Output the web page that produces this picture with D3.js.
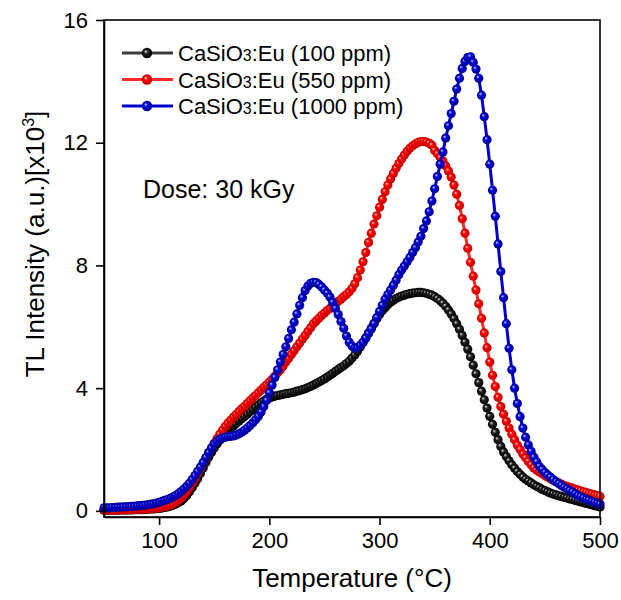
<!DOCTYPE html>
<html lang="en">
<head>
<meta charset="utf-8">
<title>TL glow curves</title>
<script src="https://cdn.jsdelivr.net/npm/d3@7"></script>
<style>
body{margin:0;background:#fff}
text{font-family:"Liberation Sans",Arial,sans-serif;fill:#000}
</style>
</head>
<body>
<div id="chart"></div>
<script>

// temperature grid of the readout (deg C)
var temps = [
 50,52.5,55,57.5,60,62.5,65,67.5,70,72.5,75,77.5,80,82.5,85,87.5,90,92.5,95,97.5,
 100,102.5,105,107.5,110,112.5,115,117.5,120,122.5,125,127.5,130,132.5,135,137.5,140,142.5,145,147.5,
 150,152.5,155,157.5,160,162.5,165,167.5,170,172.5,175,177.5,180,182.5,185,187.5,190,192.5,195,197.5,
 200,202.5,205,207.5,210,212.5,215,217.5,220,222.5,225,227.5,230,232.5,235,237.5,240,242.5,245,247.5,
 250,252.5,255,257.5,260,262.5,265,267.5,270,272.5,275,277.5,280,282.5,285,287.5,290,292.5,295,297.5,
 300,302.5,305,307.5,310,312.5,315,317.5,320,322.5,325,327.5,330,332.5,335,337.5,340,342.5,345,347.5,
 350,352.5,355,357.5,360,362.5,365,367.5,370,372.5,375,377.5,380,382.5,385,387.5,390,392.5,395,397.5,
 400,402.5,405,407.5,410,412.5,415,417.5,420,422.5,425,427.5,430,432.5,435,437.5,440,442.5,445,447.5,
 450,452.5,455,457.5,460,462.5,465,467.5,470,472.5,475,477.5,480,482.5,485,487.5,490,492.5,495,497.5,
 500]

// TL intensity x10^3
var ppm100 = [
 0.02,0.02,0.02,0.02,0.02,0.02,0.03,0.03,0.03,0.03,0.03,0.04,0.04,0.04,0.04,0.05,0.05,0.06,0.06,0.07,
 0.08,0.09,0.11,0.13,0.15,0.18,0.22,0.27,0.32,0.40,0.50,0.62,0.75,0.90,1.05,1.22,1.40,1.58,1.75,1.90,
 2.05,2.18,2.30,2.40,2.50,2.59,2.68,2.77,2.85,2.93,3.00,3.08,3.15,3.23,3.30,3.38,3.45,3.52,3.58,3.64,
 3.68,3.71,3.74,3.76,3.78,3.80,3.82,3.83,3.85,3.87,3.90,3.92,3.95,3.98,4.02,4.06,4.10,4.15,4.20,4.25,
 4.30,4.36,4.42,4.48,4.55,4.61,4.67,4.73,4.80,4.88,4.98,5.08,5.20,5.34,5.49,5.64,5.80,5.96,6.11,6.26,
 6.40,6.52,6.62,6.72,6.80,6.86,6.92,6.96,7.00,7.03,7.06,7.08,7.10,7.11,7.12,7.12,7.11,7.09,7.06,7.03,
 6.98,6.92,6.85,6.77,6.67,6.55,6.42,6.27,6.10,5.92,5.72,5.50,5.27,5.02,4.75,4.47,4.18,3.90,3.62,3.35,
 3.08,2.82,2.56,2.32,2.10,1.92,1.77,1.63,1.50,1.39,1.28,1.19,1.10,1.03,0.97,0.91,0.85,0.80,0.75,0.70,
 0.66,0.62,0.58,0.55,0.52,0.49,0.47,0.44,0.42,0.39,0.37,0.34,0.32,0.29,0.27,0.24,0.22,0.20,0.17,0.15,
 0.13]

var ppm550 = [
 0.02,0.02,0.02,0.02,0.02,0.03,0.03,0.03,0.03,0.04,0.04,0.04,0.05,0.05,0.05,0.06,0.06,0.07,0.08,0.09,
 0.10,0.12,0.14,0.16,0.18,0.22,0.28,0.35,0.42,0.51,0.62,0.75,0.90,1.05,1.22,1.38,1.55,1.72,1.90,2.05,
 2.20,2.35,2.50,2.63,2.75,2.86,2.96,3.06,3.15,3.24,3.33,3.41,3.50,3.59,3.68,3.76,3.85,3.94,4.03,4.11,
 4.20,4.29,4.39,4.50,4.60,4.72,4.85,4.97,5.10,5.22,5.35,5.47,5.60,5.72,5.85,5.97,6.10,6.19,6.28,6.37,
 6.45,6.53,6.60,6.68,6.75,6.83,6.90,6.98,7.05,7.14,7.25,7.40,7.60,7.85,8.12,8.42,8.75,9.05,9.35,9.62,
 9.90,10.15,10.40,10.62,10.82,11.00,11.17,11.32,11.47,11.60,11.72,11.82,11.90,11.96,12.01,12.04,12.04,12.02,11.98,11.92,
 11.75,11.64,11.52,11.40,11.25,11.08,10.88,10.62,10.32,9.95,9.52,9.05,8.56,8.10,7.65,7.20,6.75,6.28,5.80,5.32,
 4.85,4.42,4.05,3.70,3.40,3.15,2.92,2.70,2.50,2.32,2.15,2.00,1.85,1.73,1.61,1.50,1.40,1.33,1.27,1.21,
 1.15,1.10,1.05,1.00,0.95,0.91,0.87,0.83,0.80,0.77,0.74,0.71,0.68,0.65,0.62,0.60,0.57,0.55,0.52,0.50,
 0.47]

var ppm1000 = [
 0.10,0.10,0.10,0.11,0.11,0.12,0.12,0.13,0.13,0.14,0.15,0.15,0.16,0.17,0.18,0.19,0.20,0.22,0.23,0.25,
 0.28,0.31,0.34,0.37,0.41,0.45,0.50,0.56,0.63,0.71,0.80,0.90,1.02,1.15,1.29,1.43,1.58,1.74,1.90,2.05,
 2.18,2.27,2.33,2.37,2.40,2.42,2.43,2.44,2.47,2.51,2.56,2.63,2.70,2.78,2.87,2.97,3.08,3.22,3.40,3.60,
 3.85,4.10,4.35,4.60,4.85,5.10,5.35,5.62,5.90,6.15,6.42,6.70,6.95,7.18,7.33,7.42,7.45,7.44,7.38,7.30,
 7.20,7.10,6.97,6.80,6.60,6.40,6.17,5.95,5.70,5.50,5.37,5.30,5.32,5.40,5.50,5.63,5.78,5.93,6.10,6.30,
 6.50,6.70,6.90,7.05,7.20,7.35,7.52,7.70,7.85,7.98,8.12,8.26,8.42,8.58,8.76,8.95,9.20,9.45,9.75,10.10,
 10.50,10.90,11.30,11.70,12.15,12.55,12.95,13.35,13.75,14.10,14.42,14.65,14.78,14.80,14.62,14.40,14.10,13.55,12.85,12.10,
 11.30,10.45,9.60,8.70,7.80,6.95,6.10,5.30,4.60,4.00,3.50,3.07,2.70,2.40,2.15,1.94,1.75,1.60,1.45,1.35,
 1.25,1.17,1.10,1.02,0.95,0.89,0.83,0.77,0.72,0.67,0.62,0.56,0.50,0.46,0.42,0.38,0.35,0.31,0.28,0.25,
 0.22]

var seriesLabels = ["(100 ppm)", "(550 ppm)", "(1000 ppm)"]
var xTicks = [100, 200, 300, 400, 500]
var yTicks = [0, 4, 8, 12, 16]

var lineColors = ["#3c3c3c", "#ff2a2a", "#0000cc"]
var ballColors = [["#e0e0e0", "#222", "#000"], ["#ffd8d8", "#ff0000", "#c00000"], ["#d0d0ff", "#0000dd", "#00008c"]]

var W = 621, H = 600
// plot box edges (pixels)
var pLeft = 104, pRight = 600, pTop = 20, pBottom = 517

var svg = d3.select("#chart").append("svg")
	.attr("width", W)
	.attr("height", H)

var xScale = d3.scaleLinear().domain([50, 500]).range([pLeft, pRight])
var yScale = d3.scaleLinear().domain([-0.2, 16]).range([pBottom, pTop])

// sphere look for the markers
var defs = svg.append("defs")
ballColors.forEach(function(c, i){
	var g = defs.append("radialGradient").attr("id", "ball" + i)
		.attr("cx", "50%").attr("cy", "50%").attr("r", "50%")
		.attr("fx", "35%").attr("fy", "32%")
	g.append("stop").attr("offset", "0%").attr("stop-color", c[0])
	g.append("stop").attr("offset", "40%").attr("stop-color", c[1])
	g.append("stop").attr("offset", "100%").attr("stop-color", c[2])
})

// axes
var xAxis = d3.axisBottom(xScale).tickValues(xTicks).tickSize(8).tickSizeOuter(0).tickPadding(7)
var yAxis = d3.axisLeft(yScale).tickValues(yTicks).tickSize(8).tickSizeOuter(0).tickPadding(8)

var series = [ppm100, ppm550, ppm1000]

var line = d3.line()
	.x(function(d){ return xScale(d[0]) })
	.y(function(d){ return yScale(d[1]) })

series.forEach(function(vals, i){
	var pts = temps.map(function(t, j){ return [t, vals[j]] })
	var g = svg.append("g").attr("class", "series" + i)
	g.append("path")
		.datum(pts)
		.attr("d", line)
		.attr("fill", "none")
		.attr("stroke", lineColors[i])
		.attr("stroke-width", 3)
	g.selectAll("circle")
		.data(pts)
		.enter()
		.append("circle")
		.attr("cx", function(d){ return xScale(d[0]) })
		.attr("cy", function(d){ return yScale(d[1]) })
		.attr("r", 4.6)
		.attr("fill", "url(#ball" + i + ")")
})

// frame
svg.append("rect")
	.attr("x", pLeft).attr("y", pTop)
	.attr("width", pRight - pLeft).attr("height", pBottom - pTop)
	.attr("fill", "none").attr("stroke", "#000").attr("stroke-width", 1.6)

var gx = svg.append("g").attr("transform", "translate(0," + pBottom + ")").call(xAxis)
var gy = svg.append("g").attr("transform", "translate(" + pLeft + ",0)").call(yAxis)
;[gx, gy].forEach(function(g){
	g.select(".domain").attr("stroke-width", 1.6)
	g.selectAll(".tick line").attr("stroke-width", 1.6)
	g.selectAll(".tick text").style("font-size", "22px").attr("font-family", null)
})

// titles
svg.append("text")
	.attr("x", (pLeft + pRight) / 2)
	.attr("y", 587)
	.attr("text-anchor", "middle")
	.style("font-size", "26px")
	.text("Temperature (\u00B0C)")

var yt = svg.append("text")
	.attr("transform", "translate(44,244) rotate(-90)")
	.attr("text-anchor", "middle")
	.style("font-size", "26px")
yt.append("tspan").text("TL Intensity (a.u.)[x10")
yt.append("tspan").attr("dy", -10).style("font-size", "16px").text("3")
yt.append("tspan").attr("dy", 10).text("]")

svg.append("text")
	.attr("x", 143).attr("y", 198)
	.style("font-size", "25px")
	.text("Dose: 30 kGy")

// legend
var legendY = [53, 79.5, 106]
seriesLabels.forEach(function(lab, i){
	var y = legendY[i]
	svg.append("line")
		.attr("x1", 122).attr("x2", 173)
		.attr("y1", y).attr("y2", y)
		.attr("stroke", lineColors[i]).attr("stroke-width", 3)
	svg.append("circle")
		.attr("cx", 147).attr("cy", y).attr("r", 5.2)
		.attr("fill", "url(#ball" + i + ")")
	var t = svg.append("text")
		.attr("x", 178).attr("y", y + 8)
		.style("font-size", "22px")
	t.append("tspan").text("CaSiO")
	t.append("tspan").style("font-size", "16px").text("3")
	t.append("tspan").text(":Eu " + lab)
})

</script>
</body>
</html>
